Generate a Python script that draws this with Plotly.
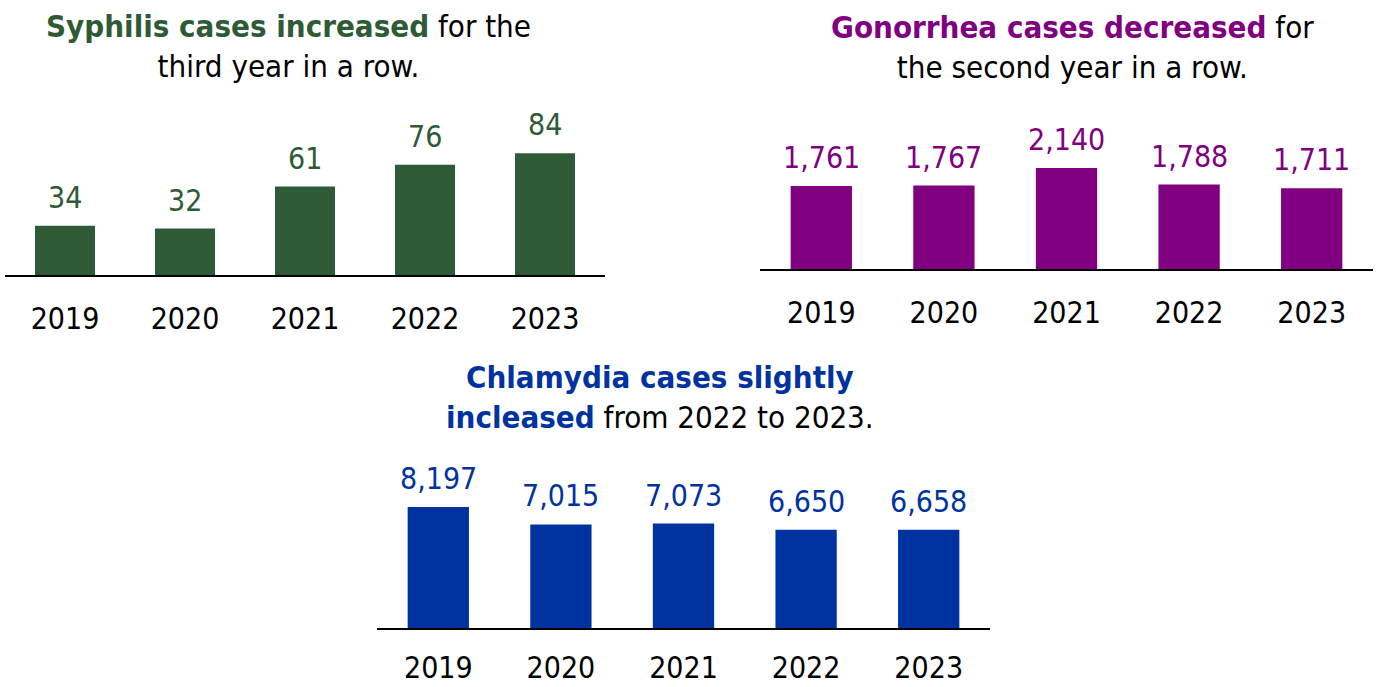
import plotly.graph_objects as go

years = ["2019", "2020", "2021", "2022", "2023"]
syphilis = [34, 32, 61, 76, 84]
gonorrhea = [1761, 1767, 2140, 1788, 1711]
chlamydia = [8197, 7015, 7073, 6650, 6658]

GREEN = "#2E5B36"
PURPLE = "#800080"
BLUE = "#0033A0"
FONT = "DejaVu Sans Condensed, Liberation Sans, sans-serif"

W, H = 1382, 687

fig = go.Figure()

panels = [
    # values, color, xaxis, yaxis, x px range, y px (bottom, top), y max, tick standoff
    (syphilis, GREEN, "x", "y", (5, 605), (275, 110), 113.8, 16),
    (gonorrhea, PURPLE, "x2", "y2", (760, 1373), (269, 110), 3369, 16),
    (chlamydia, BLUE, "x3", "y3", (377, 990), (628, 460), 11382, 12),
]

for i, (vals, col, xa, ya, xpx, ypx, ymax, stand) in enumerate(panels):
    fig.add_trace(go.Bar(x=years, y=vals, xaxis=xa, yaxis=ya,
                         marker=dict(color=col, line=dict(width=0)),
                         width=0.5, showlegend=False, hoverinfo="skip"))
    for k, v in enumerate(vals):
        fig.add_annotation(x=k, y=v, xref=xa, yref=ya, text=f"{v:,}",
                           showarrow=False, yanchor="bottom", yshift=9,
                           font=dict(family=FONT, size=30, color=col))
    sfx = "" if i == 0 else str(i + 1)
    fig.layout["xaxis" + sfx] = dict(
        type="category", domain=[xpx[0] / W, xpx[1] / W], anchor=ya,
        range=[-0.5, len(years) - 0.5], autorange=False, automargin=False,
        showline=True, linecolor="black", linewidth=2, showgrid=False, zeroline=False,
        ticks="", ticklabelstandoff=stand, tickfont=dict(family=FONT, size=30, color="black"),
        fixedrange=True)
    fig.layout["yaxis" + sfx] = dict(
        domain=[1 - ypx[0] / H, 1 - ypx[1] / H], anchor=xa, range=[0, ymax],
        autorange=False, automargin=False,
        visible=False, showgrid=False, zeroline=False, fixedrange=True)

titles = [
    (288, 5.5, f"<b><span style='color:{GREEN}'>Syphilis cases increased</span></b> for the<br>third year in a row."),
    (1072, 6.5, f"<b><span style='color:{PURPLE}'>Gonorrhea cases decreased</span></b> for<br>the second year in a row."),
    (660, 356.5, f"<b><span style='color:{BLUE}'>Chlamydia cases slightly<br>incleased</span></b> from 2022 to 2023."),
]
for cx, top, txt in titles:
    fig.add_annotation(x=cx / W, y=1 - top / H, xref="paper", yref="paper", text=txt,
                       showarrow=False, xanchor="center", yanchor="top", align="center",
                       font=dict(family=FONT, size=31, color="black"))

fig.update_layout(width=W, height=H, margin=dict(l=0, r=0, t=0, b=0),
                  paper_bgcolor="white", plot_bgcolor="white", bargap=0.5)

fig.write_html("out.html", config={"displayModeBar": False},
               post_script="document.body.style.margin='0';document.body.style.overflow='hidden';")
